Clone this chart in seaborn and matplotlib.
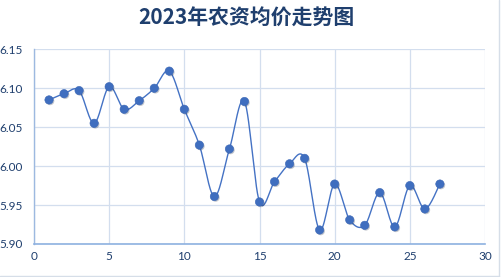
import numpy as np
import pandas as pd
import matplotlib
matplotlib.use("Agg")
import matplotlib.pyplot as plt
import matplotlib.patheffects as pe
import seaborn as sns

title = "2023年农资均价走势图"
x_vals = list(range(1, 28))
prices = [6.085, 6.093, 6.097, 6.055, 6.102, 6.073, 6.084, 6.100, 6.122,
          6.073, 6.027, 5.961, 6.022, 6.083, 5.954, 5.980, 6.003, 6.010,
          5.918, 5.977, 5.931, 5.924, 5.966, 5.922, 5.975, 5.945, 5.977]
x_ticks = [0, 5, 10, 15, 20, 25, 30]
y_ticks = [5.90, 5.95, 6.00, 6.05, 6.10, 6.15]

sns.set_theme(style="white")
plt.rcParams['font.family'] = ['Noto Sans CJK SC', 'DejaVu Sans']

df = pd.DataFrame({"x": x_vals, "price": prices})

# Excel-style smooth line (Catmull-Rom Bezier) through the data points
def smooth(xs, ys, n=30):
    xs = np.asarray(xs, float); ys = np.asarray(ys, float)
    px = np.concatenate([[xs[0]], xs, [xs[-1]]])
    py = np.concatenate([[ys[0]], ys, [ys[-1]]])
    outx, outy = [], []
    t = np.linspace(0, 1, n)
    for i in range(1, len(px) - 2):
        p0 = np.array([px[i], py[i]]); p3 = np.array([px[i+1], py[i+1]])
        c1 = p0 + (np.array([px[i+1], py[i+1]]) - np.array([px[i-1], py[i-1]])) / 6
        c2 = p3 - (np.array([px[i+2], py[i+2]]) - np.array([px[i], py[i]])) / 6
        b = ((1-t)**3)[:, None]*p0 + (3*(1-t)**2*t)[:, None]*c1 + (3*(1-t)*t**2)[:, None]*c2 + (t**3)[:, None]*p3
        outx.extend(b[:, 0]); outy.extend(b[:, 1])
    return pd.DataFrame({"x": outx, "y": outy})

curve = smooth(df["x"], df["price"])

fig = plt.figure(figsize=(5.01, 2.77), dpi=100)
ax = fig.add_axes([34/501, 1-244/277, (485-34)/501, (244-49.3)/277])

line_c = "#4472C4"
sns.lineplot(data=curve, x="x", y="y", ax=ax, color=line_c, lw=1.0, zorder=3,
             sort=False, estimator=None)
sns.scatterplot(data=df, x="x", y="price", ax=ax, color="#3F6EBF", s=36,
                edgecolor="#3A66B5", linewidth=0.4, zorder=4, legend=False,
                path_effects=[pe.SimplePatchShadow(offset=(0.8, -0.8), alpha=0.25), pe.Normal()])

ax.set_xlim(0, 30)
ax.set_ylim(5.90, 6.15)
ax.set_xticks(x_ticks)
ax.set_yticks(y_ticks)
ax.set_xticklabels([str(v) for v in x_ticks])
ax.set_yticklabels([f"{v:.2f}" for v in y_ticks])
ax.set_xlabel("")
ax.set_ylabel("")
ax.grid(True, color="#D3DEEE", lw=0.9)
ax.set_axisbelow(True)
for s in ["top", "right"]:
    ax.spines[s].set_visible(False)
ax.spines["left"].set_color("#9DB9E0")
ax.spines["bottom"].set_color("#8EB1E0")
ax.spines["left"].set_linewidth(1.0)
ax.spines["bottom"].set_linewidth(1.2)
ax.tick_params(axis="both", length=0, labelsize=8.5, colors="#1F3F6E")
ax.tick_params(axis="y", pad=8)
ax.tick_params(axis="x", pad=5)
for lab in ax.get_xticklabels() + ax.get_yticklabels():
    lab.set_family(['Lato', 'DejaVu Sans'])

fig.text(246/501, 1-18/277, title, ha="center", va="center", fontsize=15,
         fontweight="bold", color="#1F3F6E")

# chart border (right and bottom edges visible)
fig.add_artist(plt.Line2D([499/501, 499/501], [0, 1], color="#D6DEE8", lw=1.0, transform=fig.transFigure))
fig.add_artist(plt.Line2D([0, 499/501], [1.5/277, 1.5/277], color="#D6DEE8", lw=1.0, transform=fig.transFigure))

fig.savefig("out.png", dpi=100)
